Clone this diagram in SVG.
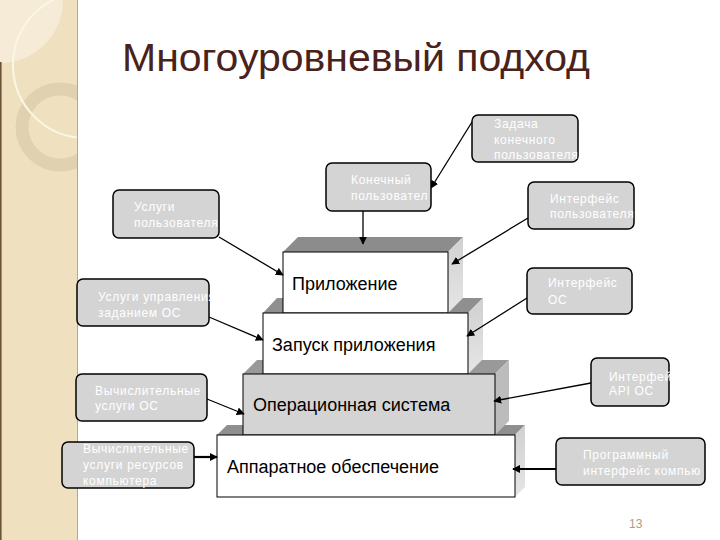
<svg xmlns="http://www.w3.org/2000/svg" width="720" height="540" viewBox="0 0 720 540">
<defs>
<style>
.box{fill:#d4d4d4;stroke:#000;stroke-width:1.5}
.lbl{font-family:"Liberation Sans",Arial,sans-serif;font-size:12px;fill:#fff;letter-spacing:0.7px}
.blk{font-family:"Liberation Sans",Arial,sans-serif;font-size:18px;fill:#000}
.front{stroke:#000;stroke-width:1}
.con{stroke:#000;stroke-width:1.3;fill:none;marker-end:url(#ah)}
.conb{stroke:#000;stroke-width:2.2;fill:none;marker-end:url(#ah)}
</style>
<marker id="ah" viewBox="0 0 10 10" refX="9" refY="5" markerWidth="8" markerHeight="8" markerUnits="userSpaceOnUse" orient="auto">
<path d="M0,0 L10,5 L0,10 z" fill="#000"/>
</marker>
<clipPath id="strip"><rect x="0" y="0" width="78" height="540"/></clipPath>
<linearGradient id="side" x1="0" y1="0" x2="0" y2="1">
<stop offset="0" stop-color="#d0d0d0"/><stop offset="1" stop-color="#e6e6e6"/>
</linearGradient>
</defs>
<rect x="0" y="0" width="720" height="540" fill="#fff"/>
<g id="strip-deco" clip-path="url(#strip)">
<rect x="0" y="0" width="78" height="540" fill="#efe1bf"/>
<circle cx="0" cy="0" r="63" fill="#f5ebd6"/>
<circle cx="60" cy="127" r="38" fill="none" stroke="#e0d2b0" stroke-width="13"/>
<circle cx="86" cy="65" r="73" fill="none" stroke="#fbf6e6" stroke-width="2"/>
<line x1="0.8" y1="62" x2="0.8" y2="540" stroke="#6b5536" stroke-width="1.6"/>
<line x1="77.5" y1="0" x2="77.5" y2="540" stroke="#b8a888" stroke-width="1"/>
</g>
<text x="122" y="71" font-family="'Liberation Sans',Arial,sans-serif" font-size="39" fill="#4a2219" textLength="468" lengthAdjust="spacingAndGlyphs">Многоуровневый подход</text>
<g id="stack">
<g id="faces">
<polygon points="217,435 227,425 525,425 515,435" fill="#8f8f8f"/>
<polygon points="515,435 525,425 525,487 515,497" fill="url(#side)"/>
<polygon points="243,374 257,360 509,360 495,374" fill="#999"/>
<polygon points="495,374 509,360 509,421 495,435" fill="#bcbcbc"/>
<polygon points="263,313 277,298 483,298 468,313" fill="#8f8f8f"/>
<polygon points="468,313 483,298 483,359 468,374" fill="url(#side)"/>
<polygon points="283,252 298,237 463,237 448,252" fill="#8c8c8c"/>
<polygon points="448,252 463,237 463,298 448,313" fill="url(#side)"/>
</g>
<g id="n-app"><rect class="front" x="283" y="252" width="165" height="61" fill="#fff"/><text class="blk" x="292" y="290">Приложение</text></g>
<g id="n-launch"><rect class="front" x="263" y="313" width="205" height="61" fill="#fff"/><text class="blk" x="272" y="351">Запуск приложения</text></g>
<g id="n-os"><rect class="front" x="243" y="374" width="252" height="61" fill="#d4d4d4"/><text class="blk" x="253" y="411">Операционная система</text></g>
<g id="n-hw"><rect class="front" x="217" y="435" width="298" height="62" fill="#fff"/><text class="blk" x="227" y="473">Аппаратное обеспечение</text></g>
</g>
<g id="connectors">
<line class="con" x1="472" y1="122" x2="431" y2="188"/>
<line class="con" x1="363" y1="211" x2="363" y2="244"/>
<line class="con" x1="528" y1="218" x2="452" y2="264"/>
<line class="con" x1="527" y1="298" x2="467" y2="336"/>
<line class="con" x1="219" y1="237" x2="283" y2="275"/>
<line class="con" x1="209" y1="317" x2="263" y2="340"/>
<line class="con" x1="207" y1="399" x2="244" y2="414"/>
<line class="conb" x1="194" y1="457" x2="217" y2="457"/>
<line class="con" x1="591" y1="383" x2="494" y2="401"/>
<line class="conb" x1="556" y1="469" x2="513" y2="469"/>
</g>
<g id="n-task"><rect class="box" x="472" y="115" width="106" height="47" rx="6"/><text class="lbl" x="494" y="128">Задача</text><text class="lbl" x="494" y="144">конечного</text><text class="lbl" x="494" y="159">пользователя</text></g>
<g id="n-enduser"><rect class="box" x="326" y="163" width="105" height="48" rx="6"/><text class="lbl" x="351" y="184">Конечный</text><text class="lbl" x="351" y="200">пользовател</text></g>
<g id="n-ui"><rect class="box" x="528" y="182" width="106" height="47" rx="6"/><text class="lbl" x="550" y="203">Интерфейс</text><text class="lbl" x="550" y="218">пользователя</text></g>
<g id="n-osif"><rect class="box" x="527" y="268" width="105" height="46" rx="6"/><text class="lbl" x="548" y="287">Интерфейс</text><text class="lbl" x="548" y="304">ОС</text></g>
<g id="n-usrsvc"><rect class="box" x="113" y="190" width="106" height="48" rx="6"/><text class="lbl" x="134" y="211">Услуги</text><text class="lbl" x="134" y="227">пользователя</text></g>
<g id="n-jobsvc"><rect class="box" x="77" y="279" width="132" height="47" rx="6"/><text class="lbl" x="98" y="301">Услуги управления</text><text class="lbl" x="98" y="317">заданием ОС</text></g>
<g id="n-compos"><rect class="box" x="76" y="374" width="131" height="47" rx="6"/><text class="lbl" x="95" y="395">Вычислительные</text><text class="lbl" x="95" y="410">услуги ОС</text></g>
<g id="n-comphw"><rect class="box" x="62" y="442" width="132" height="46" rx="6"/><text class="lbl" x="83" y="453">Вычислительные</text><text class="lbl" x="83" y="469">услуги ресурсов</text><text class="lbl" x="83" y="485">компьютера</text></g>
<g id="n-api"><rect class="box" x="591" y="358" width="78" height="48" rx="6"/><text class="lbl" x="609" y="381">Интерфей</text><text class="lbl" x="609" y="395">API ОС</text></g>
<g id="n-prog"><rect class="box" x="556" y="438" width="149" height="47" rx="6"/><text class="lbl" x="583" y="459">Программный</text><text class="lbl" x="583" y="475">интерфейс  компью</text></g>
<text x="629" y="528" font-family="'Liberation Sans',Arial,sans-serif" font-size="12" fill="#a89e86">13</text>
</svg>
